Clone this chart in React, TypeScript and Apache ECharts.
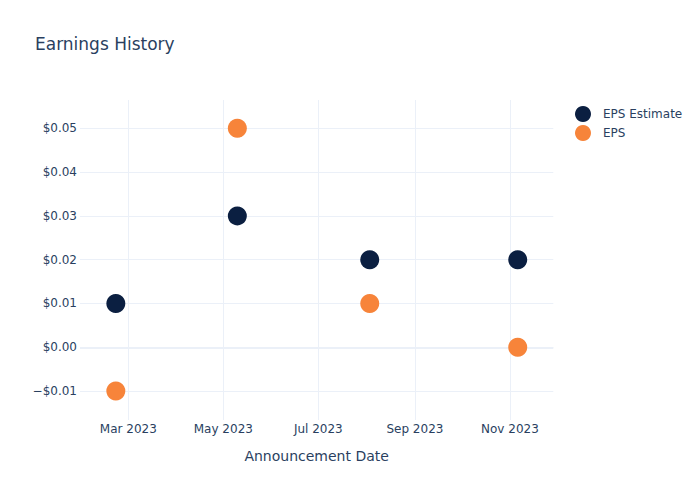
import React, { useEffect, useRef } from "react";
import * as echarts from "echarts";

const dates: string[] = ["2023-02-21", "2023-05-10", "2023-08-03", "2023-11-06"];
const epsEstimate: number[] = [0.01, 0.03, 0.02, 0.02];
const eps: number[] = [-0.01, 0.05, 0.01, 0.0];
const seriesNames: string[] = ["EPS Estimate", "EPS"];
const xTickDates: string[] = ["2023-03-01", "2023-05-01", "2023-07-01", "2023-09-01", "2023-11-01"];
const monthNames: string[] = ["Jan", "Feb", "Mar", "Apr", "May", "Jun", "Jul", "Aug", "Sep", "Oct", "Nov", "Dec"];

const xMin = "2023-01-29";
const xMax = "2023-11-28 20:00";
const yMin = -0.0166;
const yMax = 0.05646;

const FONT = "'DejaVu Sans', Verdana, sans-serif";
const TEXT = "#2a3f5f";
const GRID = "#EBF0F8";

export default function App() {
  const ref = useRef<HTMLDivElement>(null);
  useEffect(() => {
    if (!ref.current) return;
    const chart = echarts.init(ref.current, undefined, { renderer: "svg" });
    const tickKeys = xTickDates.map((s) => {
      const d = new Date(s + "T00:00:00");
      return d.getFullYear() * 100 + d.getMonth();
    });
    chart.setOption({
      animation: false,
      backgroundColor: "#fff",
      textStyle: { fontFamily: FONT },
      title: {
        text: "Earnings History",
        left: 30,
        top: 30,
        textStyle: { fontFamily: FONT, fontSize: 17, fontWeight: "normal", color: TEXT },
      },
      legend: {
        orient: "vertical",
        left: 570,
        top: 101,
        itemWidth: 16,
        itemHeight: 16,
        itemGap: 3,
        icon: "circle",
        data: seriesNames,
        textStyle: { fontFamily: FONT, fontSize: 12, color: TEXT, padding: [0, 0, 0, 7] },
      },
      grid: { left: 80, right: 146.7, top: 100, bottom: 80, containLabel: false },
      xAxis: {
        type: "time",
        min: xMin,
        max: xMax,
        splitNumber: 10,
        name: "Announcement Date",
        nameLocation: "middle",
        nameGap: 29,
        nameTextStyle: { fontFamily: FONT, fontSize: 14, color: TEXT },
        axisLine: { show: false },
        axisTick: { show: false },
        axisLabel: {
          margin: 3,
          fontFamily: FONT,
          fontSize: 12,
          color: TEXT,
          hideOverlap: false,
          formatter: (v: number) => {
            const d = new Date(v);
            if (d.getDate() !== 1 || d.getHours() !== 0) return "";
            const key = d.getFullYear() * 100 + d.getMonth();
            if (tickKeys.indexOf(key) < 0) return "";
            return `${monthNames[d.getMonth()]} ${d.getFullYear()}`;
          },
        },
        splitLine: { show: false },
        minorTick: { show: false },
      },
      yAxis: {
        type: "value",
        min: yMin,
        max: yMax,
        splitNumber: 8,
        axisLine: { show: false },
        axisTick: { show: false },
        axisLabel: {
          margin: 3,
          fontFamily: FONT,
          fontSize: 12,
          color: TEXT,
          showMinLabel: false,
          showMaxLabel: false,
          formatter: (v: number) => (v < -1e-9 ? "\u2212" : "") + "$" + Math.abs(v).toFixed(2),
        },
        splitLine: { show: true, showMinLine: false, showMaxLine: false, lineStyle: { color: GRID, width: 1 } },
      },
      series: [
        {
          type: "scatter",
          name: "__grid",
          data: [],
          z: 1,
          silent: true,
          markLine: {
            silent: true,
            z: 1,
            symbol: ["none", "none"],
            label: { show: false },
            emphasis: { disabled: true },
            lineStyle: { color: GRID, width: 1, type: "solid" },
            data: [
              ...xTickDates.map((d) => ({ xAxis: d })),
              { yAxis: 0, lineStyle: { color: GRID, width: 2, type: "solid" } },
            ],
          },
        },
        {
          type: "scatter",
          name: seriesNames[0],
          data: dates.map((d, i) => [d, epsEstimate[i]]),
          symbol: "circle",
          symbolSize: 19,
          z: 3,
          itemStyle: { color: "#0b1f41", opacity: 1 },
        },
        {
          type: "scatter",
          name: seriesNames[1],
          data: dates.map((d, i) => [d, eps[i]]),
          symbol: "circle",
          symbolSize: 19,
          z: 3,
          itemStyle: { color: "#f7843a", opacity: 1 },
        },
      ],
    });
    return () => chart.dispose();
  }, []);
  return <div ref={ref} style={{ width: 700, height: 500, position: "absolute", left: 0, top: 0 }} />;
}
